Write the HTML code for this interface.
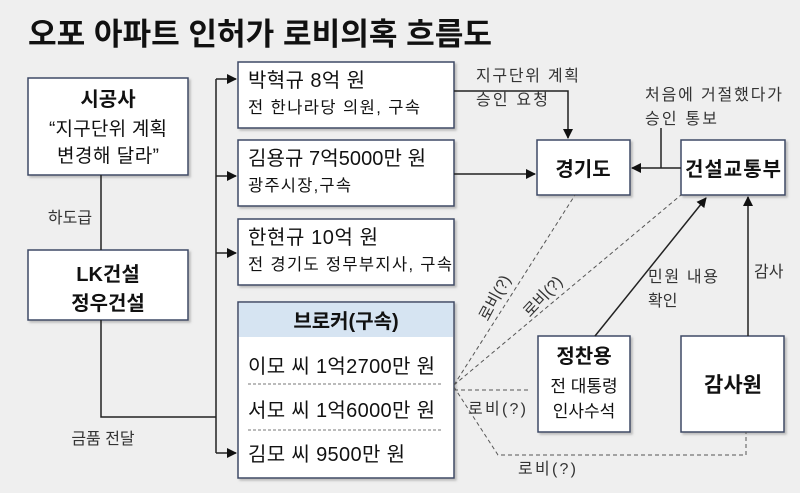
<!DOCTYPE html>
<html><head><meta charset="utf-8"><style>
html,body{margin:0;padding:0;background:#efefef;}
svg{display:block;font-family:"Liberation Sans","Noto Sans CJK KR",sans-serif;}
</style></head><body>
<svg width="800" height="493" viewBox="0 0 800 493" xmlns="http://www.w3.org/2000/svg">
<defs>
<marker id="a" markerWidth="10" markerHeight="10" refX="9" refY="5" orient="auto" markerUnits="userSpaceOnUse"><path d="M0,0 L10,5 L0,10 z" fill="#111"/></marker>
<filter id="s" x="-5%" y="-5%" width="115%" height="115%"><feDropShadow dx="2" dy="2" stdDeviation="1" flood-color="#999" flood-opacity="0.6"/></filter>
</defs>
<rect width="800" height="493" fill="#efefef"/>
<text x="28" y="45" font-size="31" font-weight="bold" fill="#111" textLength="464" lengthAdjust="spacingAndGlyphs">오포 아파트 인허가 로비의혹 흐름도</text>

<g fill="#fff" stroke="#3e4a66" stroke-width="1.5" filter="url(#s)">
<rect x="28" y="78" width="160" height="97"/>
<rect x="28" y="250" width="160" height="70"/>
<rect x="238" y="62" width="216" height="66"/>
<rect x="238" y="140" width="216" height="66"/>
<rect x="238" y="219" width="216" height="66"/>
<rect x="238" y="302" width="216" height="176"/>
<rect x="537" y="140" width="93" height="55"/>
<rect x="681" y="140" width="104" height="55"/>
<rect x="538" y="336" width="92" height="96"/>
<rect x="681" y="336" width="103" height="96"/>
</g>
<rect x="239" y="303" width="214" height="34" fill="#d6e4f2"/>
<g stroke="#777" stroke-dasharray="3,2" stroke-width="1">
<line x1="248" y1="384" x2="443" y2="384"/>
<line x1="248" y1="430" x2="443" y2="430"/>
</g>

<g stroke="#222" stroke-width="1.5" fill="none">
<line x1="101" y1="175" x2="101" y2="250"/>
<polyline points="101,320 101,417 216,417"/>
<line x1="216" y1="79" x2="216" y2="453"/>
<line x1="216" y1="79" x2="236" y2="79" marker-end="url(#a)"/>
<line x1="216" y1="176" x2="236" y2="176" marker-end="url(#a)"/>
<line x1="216" y1="253" x2="236" y2="253" marker-end="url(#a)"/>
<line x1="216" y1="453" x2="236" y2="453" marker-end="url(#a)"/>
<polyline points="454,91 568,91 568,138" marker-end="url(#a)"/>
<line x1="454" y1="174" x2="535" y2="174" marker-end="url(#a)"/>
<line x1="681" y1="168" x2="632" y2="168" marker-end="url(#a)"/>
<line x1="661" y1="128" x2="661" y2="168"/>
<line x1="595" y1="336" x2="706" y2="198" marker-end="url(#a)"/>
<line x1="748" y1="336" x2="748" y2="197" marker-end="url(#a)"/>
</g>
<g stroke="#555" stroke-width="1" stroke-dasharray="4,3" fill="none">
<line x1="454" y1="385" x2="575" y2="195"/>
<line x1="454" y1="385" x2="681" y2="195"/>
<line x1="454" y1="390" x2="530" y2="390"/>
<polyline points="454,387 498,455 746,455 746,432"/>
</g>

<g fill="#111" text-anchor="middle">
<text x="108" y="106" font-size="20" font-weight="bold">시공사</text>
<text x="108" y="135" font-size="19" textLength="118">“지구단위 계획</text>
<text x="108" y="162" font-size="19" textLength="102">변경해 달라”</text>
<text x="108" y="281" font-size="20" font-weight="bold">LK건설</text>
<text x="108" y="310" font-size="20" font-weight="bold">정우건설</text>
<text x="70" y="223" font-size="16" fill="#333">하도급</text>
<text x="103" y="444" font-size="16" fill="#333">금품 전달</text>
<text x="346" y="328" font-size="20" font-weight="bold">브로커(구속)</text>
<text x="583" y="176" font-size="20" font-weight="bold">경기도</text>
<text x="733" y="176" font-size="20" font-weight="bold" textLength="96">건설교통부</text>
<text x="584" y="363" font-size="20" font-weight="bold">정찬용</text>
<text x="584" y="392" font-size="17">전 대통령</text>
<text x="584" y="417" font-size="17">인사수석</text>
<text x="733" y="392" font-size="21" font-weight="bold">감사원</text>
</g>
<g fill="#111">
<text x="248" y="87" font-size="20" textLength="117">박혁규 8억 원</text>
<text x="248" y="113" font-size="16.5" textLength="172">전 한나라당 의원, 구속</text>
<text x="248" y="165" font-size="20" textLength="178">김용규 7억5000만 원</text>
<text x="248" y="191" font-size="16.5" textLength="103">광주시장,구속</text>
<text x="248" y="244" font-size="20" textLength="130">한현규 10억 원</text>
<text x="248" y="270" font-size="16.5" textLength="204">전 경기도 정무부지사, 구속</text>
<text x="248" y="373" font-size="20" textLength="187">이모 씨 1억2700만 원</text>
<text x="248" y="417" font-size="20" textLength="187">서모 씨 1억6000만 원</text>
<text x="248" y="461" font-size="20" textLength="157">김모 씨 9500만 원</text>
</g>
<g fill="#333" font-size="16">
<text x="476" y="81" textLength="103">지구단위 계획</text>
<text x="476" y="105" textLength="72">승인 요청</text>
<text x="645" y="100" textLength="137">처음에 거절했다가</text>
<text x="645" y="124" textLength="72">승인 통보</text>
<text x="648" y="282" textLength="70">민원 내용</text>
<text x="648" y="306">확인</text>
<text x="754" y="277">감사</text>
<text x="468" y="414" textLength="58">로비(?)</text>
<text x="518" y="474" textLength="58">로비(?)</text>
<text transform="translate(488,322) rotate(-62)">로비(?)</text>
<text transform="translate(530,318) rotate(-47)">로비(?)</text>
</g>
</svg>
</body></html>
